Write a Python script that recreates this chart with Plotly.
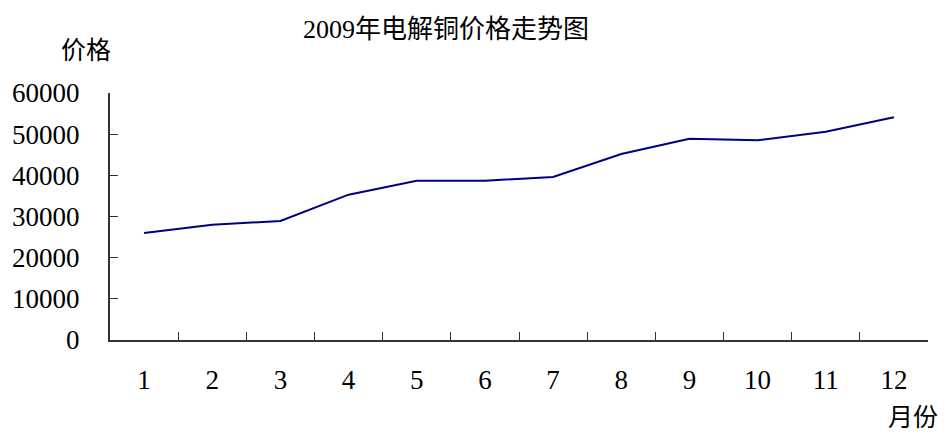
import plotly.graph_objects as go

months = ["1", "2", "3", "4", "5", "6", "7", "8", "9", "10", "11", "12"]
prices = [26000, 28000, 28900, 35300, 38700, 38700, 39600, 45200, 48900, 48500, 50600, 54100]
y_ticks = [0, 10000, 20000, 30000, 40000, 50000, 60000]

FONT = "Liberation Serif, Noto Sans CJK SC, serif"

fig = go.Figure()
fig.add_trace(go.Scatter(x=months, y=prices, mode="lines",
                         line=dict(color="#000080", width=2), showlegend=False))

fig.update_layout(
    width=944, height=434,
    margin=dict(l=110, r=16, t=93, b=94),
    paper_bgcolor="white", plot_bgcolor="white",
    font=dict(family=FONT, size=26, color="black"),
)
fig.add_annotation(text="2009年电解铜价格走势图", xref="paper", yref="paper",
                   x=(446 - 110) / 818, y=1 + (93 - 30) / 247, xanchor="center", yanchor="middle",
                   showarrow=False, font=dict(size=26))
fig.add_annotation(text="价格", xref="paper", yref="paper",
                   x=(86 - 110) / 818, y=1 + (93 - 51) / 247, xanchor="center", yanchor="middle",
                   showarrow=False, font=dict(size=25))
fig.add_annotation(text="月份", xref="paper", yref="paper",
                   x=(913 - 110) / 818, y=-(417 - 340) / 247, xanchor="center", yanchor="middle",
                   showarrow=False, font=dict(size=25))

fig.update_xaxes(type="category", tickson="boundaries", ticks="inside", ticklen=8,
                 tickcolor="#333", tickwidth=1, showline=True, linecolor="#333", linewidth=2,
                 showgrid=False, zeroline=False, ticklabelstandoff=15,
                 tickfont=dict(size=27), range=[-0.5, 11.5])
fig.update_yaxes(range=[0, 60000], tickvals=y_ticks, ticktext=[str(v) for v in y_ticks],
                 ticks="inside", ticklen=8, tickcolor="#333", tickwidth=1,
                 showline=True, linecolor="#333", linewidth=2, showgrid=False,
                 zeroline=False, ticklabelstandoff=23, tickfont=dict(size=27))

fig.write_html("out.html")
